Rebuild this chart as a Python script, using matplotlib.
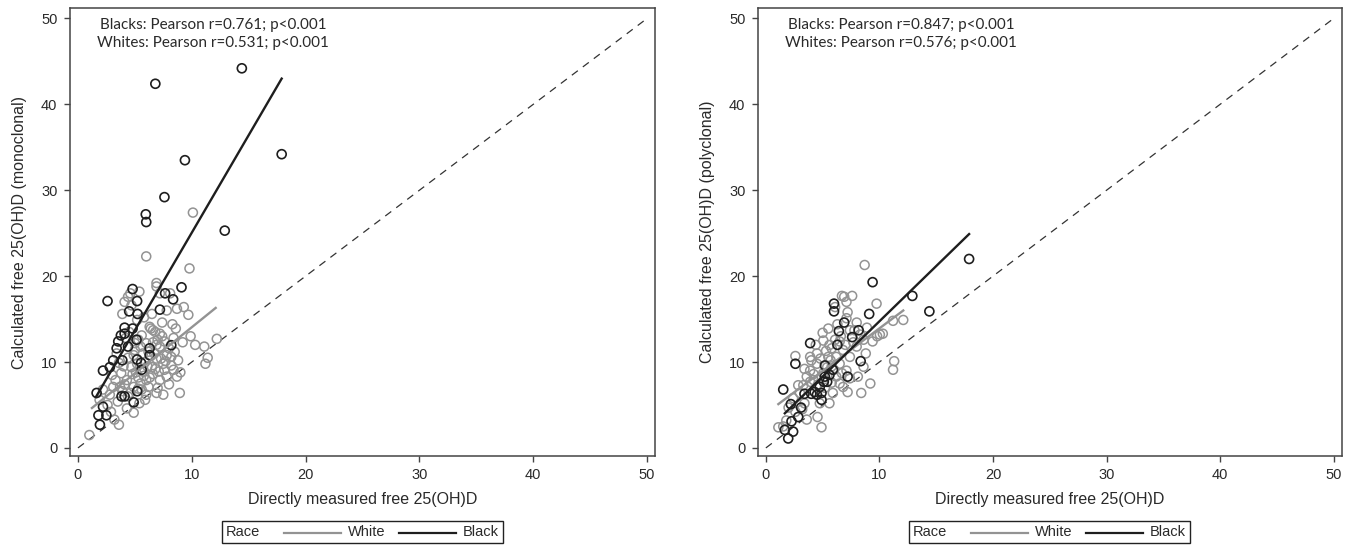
import matplotlib
matplotlib.use("Agg")
from matplotlib import pyplot as plt
from matplotlib.lines import Line2D
from matplotlib.offsetbox import AnchoredOffsetbox, HPacker, TextArea, DrawingArea

# --- data ---
left_white_x = [1.0, 3.6, 4.9, 6.9, 8.95, 8.7, 12.2, 11.1, 11.4, 11.2, 9.7, 8.3, 8.7, 7.8, 6.9, 4.6,
                5.4, 6.3, 6.6, 7.2, 8.4, 8.5, 7.5, 8.2, 6.9, 6.0, 5.7, 4.7, 5.3, 6.0, 6.6, 7.2,
                7.8, 4.3, 3.7, 3.1, 2.8, 3.5, 5.4, 6.2, 4.6, 7.2, 7.8, 6.5, 8.4, 8.8, 5.2, 5.9,
                4.9, 6.0, 1.9, 3.3, 3.8, 6.9, 5.6, 5.2, 4.7, 7.2, 8.1, 10.1, 6.0, 9.8, 6.9, 4.4,
                6.4, 6.8, 7.0, 7.6, 8.0, 5.5, 6.2, 6.7, 7.3, 4.4, 4.9, 5.1, 5.7, 6.3, 6.8, 7.6,
                8.0, 7.0, 5.6, 4.4, 3.9, 2.6, 2.2, 3.0, 4.0, 5.0, 4.2, 3.4, 8.6, 9.2, 9.0, 7.4,
                5.8, 3.9, 4.1, 9.3, 9.9, 10.3, 5.3, 6.5, 3.2, 4.3, 5.9, 7.5, 2.9,
                4.8, 5.5, 6.1, 6.4, 7.1, 7.7, 3.6, 4.1, 5.0, 5.8, 6.6, 7.4, 8.2, 4.5, 5.3]
left_white_y = [1.5, 2.7, 4.1, 6.4, 6.4, 8.3, 12.7, 11.8, 10.5, 9.8, 15.5, 14.4, 16.2, 16.0, 18.8, 18.0,
                18.2, 14.1, 13.7, 13.3, 12.8, 11.2, 9.8, 9.6, 10.4, 12.2, 11.0, 9.4, 8.2, 7.9, 8.6, 7.9,
                8.3, 7.9, 7.1, 7.1, 6.2, 5.4, 5.2, 7.1, 6.4, 11.8, 10.8, 9.4, 9.1, 10.2, 9.8, 10.0,
                7.1, 6.2, 5.6, 7.9, 8.7, 12.0, 13.1, 14.9, 16.6, 18.0, 18.0, 27.4, 22.3, 20.9, 19.2, 17.6,
                13.9, 13.5, 12.6, 12.4, 11.6, 11.8, 11.2, 11.0, 10.4, 10.5, 10.8, 8.8, 8.9, 8.2, 9.2, 9.1,
                7.4, 7.0, 6.8, 6.0, 6.6, 5.0, 6.8, 8.5, 9.5, 12.2, 12.8, 11.0, 13.9, 12.3, 8.8, 14.6,
                15.2, 15.6, 17.0, 16.4, 13.0, 12.0, 12.6, 15.6, 3.3, 4.6, 5.6, 6.2, 4.2,
                8.6, 7.5, 9.5, 10.7, 8.9, 10.1, 9.9, 7.4, 11.4, 8.4, 12.3, 13.0, 10.6, 13.5, 6.9]

left_black_x = [14.4, 6.8, 17.9, 9.4, 7.6, 5.96, 6.0, 12.9, 9.1, 4.8, 2.6, 5.2, 4.5, 5.24, 7.2, 7.66,
                8.36, 4.1, 4.8, 3.77, 5.15, 3.54, 4.1, 3.4, 4.4, 3.1, 3.9, 5.2, 2.2, 2.8, 1.64, 2.2,
                1.8, 2.5, 1.93, 3.83, 4.1, 5.2, 4.9, 6.3, 6.3, 5.6, 8.2, 5.55]
left_black_y = [44.2, 42.4, 34.2, 33.5, 29.2, 27.2, 26.3, 25.3, 18.7, 18.5, 17.1, 17.1, 15.9, 15.6, 16.1, 18.0,
                17.3, 14.0, 13.9, 13.1, 12.6, 12.4, 13.3, 11.6, 11.8, 10.2, 10.2, 10.3, 9.0, 9.4, 6.4, 4.8,
                3.8, 3.8, 2.7, 6.0, 6.0, 6.6, 5.3, 11.6, 10.8, 9.1, 11.96, 9.9]

right_white_x = [8.7, 6.7, 7.6, 9.75, 7.1, 11.2, 12.1, 10.04, 9.8, 11.3, 11.2, 8.4, 7.2, 4.9, 1.1, 1.8,
                 2.6, 2.85, 5.6, 4.55, 3.6, 8.0, 5.5, 5.06, 4.5, 5.6, 6.8, 7.4, 8.0, 8.6, 8.1, 6.5,
                 7.1, 6.2, 3.9, 3.6, 4.2, 3.3, 6.8, 5.9, 6.5, 4.5, 5.5, 6.2, 5.05, 5.8, 3.9, 7.4,
                 8.6, 6.5, 7.1, 7.8, 4.75, 3.4, 2.6, 1.53, 9.2, 4.0, 4.8, 5.3, 5.8, 6.1, 6.6, 7.0,
                 7.7, 8.3, 5.4, 6.0, 6.7, 7.4, 4.2, 4.6, 3.9, 5.2, 5.8, 3.0, 2.4, 2.0, 3.2, 5.0,
                 6.3, 7.2, 6.1, 5.7, 4.4, 3.4, 8.8, 9.4, 8.9, 6.9, 10.3]
right_white_y = [21.3, 17.7, 17.7, 16.8, 17.0, 14.8, 14.9, 13.2, 13.0, 10.1, 9.1, 6.4, 6.5, 2.4, 2.4, 3.2,
                 10.7, 7.3, 5.2, 3.6, 3.3, 14.6, 13.9, 12.5, 11.0, 11.98, 11.4, 10.6, 11.8, 9.45, 8.3, 9.8,
                 9.0, 8.3, 9.0, 8.3, 7.9, 7.3, 7.1, 6.4, 7.5, 9.8, 10.6, 10.6, 8.7, 9.5, 10.6, 13.7,
                 12.6, 12.4, 15.1, 13.7, 5.2, 5.2, 4.2, 2.5, 7.5, 10.2, 10.4, 11.3, 11.6, 12.6, 13.0, 12.0,
                 12.3, 13.2, 9.4, 9.1, 8.7, 8.1, 8.6, 7.4, 7.7, 7.0, 7.6, 6.4, 5.8, 4.7, 4.5, 13.4,
                 14.4, 15.8, 16.4, 10.2, 12.0, 9.2, 11.0, 12.4, 14.0, 17.6, 13.3]

right_black_x = [17.9, 12.9, 14.4, 9.4, 9.1, 6.0, 6.0, 6.9, 6.43, 8.17, 7.6, 6.3, 3.9, 2.6, 8.35, 7.2,
                 5.2, 5.2, 5.4, 4.75, 3.4, 4.0, 4.5, 4.9, 1.53, 2.2, 3.1, 2.85, 2.26, 1.67, 2.4, 1.97,
                 5.6, 5.1, 4.3, 5.9, 4.9]
right_black_y = [22.0, 17.7, 15.9, 19.3, 15.6, 16.8, 15.9, 14.6, 13.6, 13.7, 12.9, 12.0, 12.2, 9.8, 10.1, 8.3,
                 9.6, 8.3, 7.7, 7.1, 6.3, 6.3, 6.2, 5.6, 6.8, 5.1, 4.7, 3.6, 3.1, 2.1, 1.9, 1.1,
                 8.5, 7.7, 6.5, 9.1, 6.4]

# regression line end points
left_fit_white = ([1.23, 12.1], [4.65, 16.3])
left_fit_black = ([1.58, 17.9], [5.93, 43.0])
right_fit_white = ([1.1, 12.1], [5.1, 16.0])
right_fit_black = ([1.67, 17.9], [4.03, 24.9])

left_stats = "Blacks: Pearson r=0.761; p<0.001\nWhites: Pearson r=0.531; p<0.001"
right_stats = "Blacks: Pearson r=0.847; p<0.001\nWhites: Pearson r=0.576; p<0.001"

ticks = [0, 10, 20, 30, 40, 50]

GREY = "#939393"
BLACK = "#1e1e1e"
AX_COL = "#444444"
TXT_COL = "#2a2a2a"

plt.rcParams['font.family'] = ['Liberation Sans', 'DejaVu Sans']


def add_legend(ax):
    tp = dict(size=10.5, color=TXT_COL, family='Liberation Sans')
    items = [TextArea("Race", textprops=tp)]
    for name, col, lead in [("White", GREY, 12), ("Black", BLACK, 5)]:
        da = DrawingArea(lead + 41, 10, 0, 0)
        da.add_artist(Line2D([lead, lead + 41], [4, 4], color=col, lw=1.6))
        items += [da, TextArea(name, textprops=tp)]
    box = HPacker(children=items, align="center", pad=0, sep=5)
    anchored = AnchoredOffsetbox(loc="upper center", child=box, pad=0.28, frameon=True,
                                 bbox_to_anchor=(0.5, -0.145), bbox_transform=ax.transAxes,
                                 borderpad=0)
    anchored.patch.set_edgecolor("#222222")
    anchored.patch.set_linewidth(1.0)
    ax.add_artist(anchored)


def draw_panel(ax, wx, wy, bx, by, fit_w, fit_b, stats, ylabel):
    ax.scatter(wx, wy, s=42, facecolors="none", edgecolors=GREY, linewidths=1.1, zorder=2)
    ax.scatter(bx, by, s=42, facecolors="none", edgecolors=BLACK, linewidths=1.2, zorder=3)
    ax.plot([0, 50], [0, 50], color="#333333", lw=0.9, dashes=(6, 5), zorder=1)
    ax.plot(fit_w[0], fit_w[1], color=GREY, lw=1.7, zorder=4)
    ax.plot(fit_b[0], fit_b[1], color=BLACK, lw=1.7, zorder=5)

    ax.set_xlim(-0.7, 50.7)
    ax.set_ylim(-0.93, 51.2)
    ax.set_xticks(ticks)
    ax.set_yticks(ticks)
    ax.tick_params(direction="out", length=4, width=1, color=AX_COL, labelcolor=TXT_COL,
                   labelsize=10.5, pad=5)
    for sp in ax.spines.values():
        sp.set_color(AX_COL)
        sp.set_linewidth(1.1)
    ax.set_xlabel("Directly measured free 25(OH)D", fontsize=11.5, color=TXT_COL, labelpad=7)
    ax.set_ylabel(ylabel, fontsize=11.5, color=TXT_COL, labelpad=10)
    ax.text(0.245, 0.978, stats, transform=ax.transAxes, ha="center", va="top",
            fontsize=11, family=["Lato", "DejaVu Sans"], color=TXT_COL, linespacing=1.4)
    add_legend(ax)


fig = plt.figure(figsize=(13.51, 5.46), dpi=100)
ax1 = fig.add_axes([0.0518, 0.165, 0.433, 0.82])
ax2 = fig.add_axes([0.561, 0.165, 0.432, 0.82])

draw_panel(ax1, left_white_x, left_white_y, left_black_x, left_black_y,
           left_fit_white, left_fit_black, left_stats, "Calculated free 25(OH)D (monoclonal)")
draw_panel(ax2, right_white_x, right_white_y, right_black_x, right_black_y,
           right_fit_white, right_fit_black, right_stats, "Calculated free 25(OH)D (polyclonal)")

fig.savefig("out.png", dpi=100)
